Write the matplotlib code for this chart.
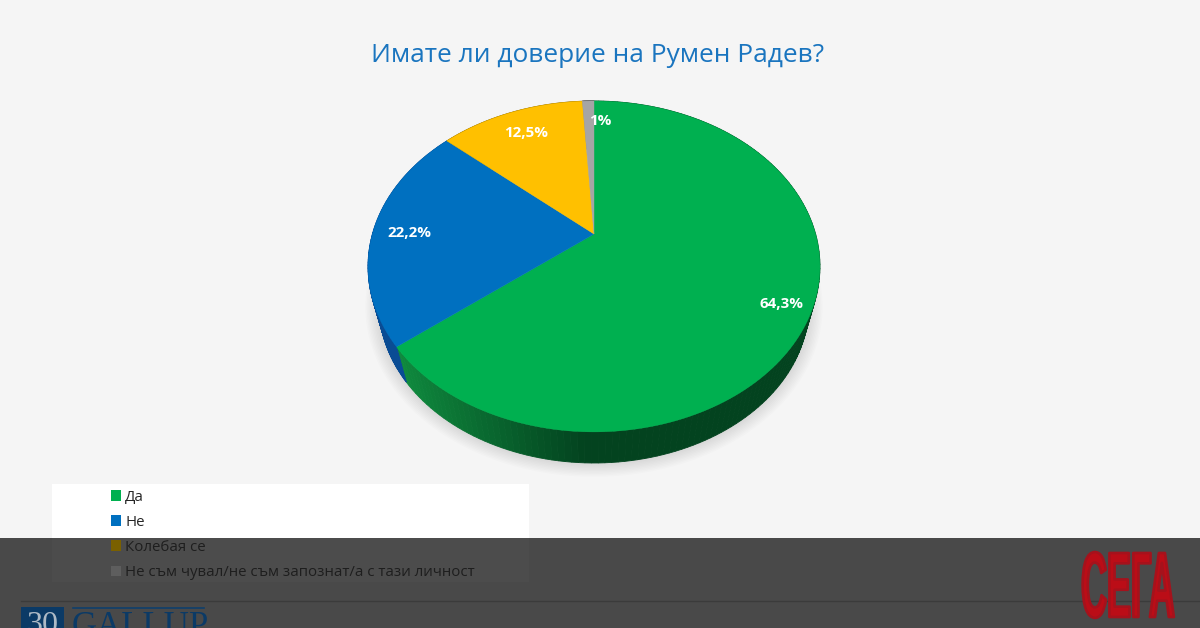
import numpy as np
import matplotlib
matplotlib.use("Agg")
import matplotlib.pyplot as plt
from matplotlib.patches import Rectangle, Patch, Polygon
from matplotlib.transforms import Affine2D
import matplotlib.patheffects as pe

categories = ["Да", "Не", "Колебая се", "Не съм чувал/не съм запознат/а с тази личност"]
values = [64.3, 22.2, 12.5, 1.0]
value_labels = ["64,3%", "22,2%", "12,5%", "1%"]
colors = ["#00B050", "#0070C0", "#FFC000", "#A5A5A5"]
side_dark = ["#03431F", "#0A4C94", "#8A6800", "#666666"]
side_light = ["#0F8A3E", "#0A4C94", "#8A6800", "#666666"]
legend_handle_colors = ["#00B050", "#0070C0", "#7A6000", "#5E5E5E"]
legend_text_colors = ["#262626", "#262626", "#1E1E1E", "#1E1E1E"]
title = "Имате ли доверие на Румен Радев?"

APEX_X, APEX_Y = 594.0, 234.0
A, B, K = 159.1, 221.6, 0.196


def project(theta):
    x, y = np.cos(theta), np.sin(theta)
    w = 1 + K * y
    return APEX_X + B * x / w, APEX_Y - A * y / w


def lower(px, py):
    return APEX_X + 0.95 * (px - APEX_X), APEX_Y + 0.95 * (py - APEX_Y) + 41


class Squeeze(pe.AbstractPathEffect):
    def __init__(self, sx, cx):
        super().__init__()
        self.sx, self.cx = sx, cx

    def draw_path(self, renderer, gc, tpath, affine, rgbFace=None):
        t = affine + Affine2D().translate(-self.cx, 0).scale(self.sx, 1).translate(self.cx, 0)
        gc.set_foreground("#A5121C")
        gc.set_linewidth(1.9)
        renderer.draw_path(gc, tpath, t, rgbFace)


fig = plt.figure(figsize=(12, 6.28), dpi=100, facecolor="#F5F5F5")
ax = fig.add_axes([0, 0, 1, 1])
ax.set_xlim(0, 1200)
ax.set_ylim(628, 0)
ax.axis("off")

edges = 2 * np.pi * np.cumsum([0] + values) / sum(values)
angles = np.pi / 2 - edges

# soft shadow beneath the pie
t = np.linspace(0, 2 * np.pi, 361)
rx, ry = project(t)
bx, by = lower(rx, ry)
for grow in np.linspace(14, 1, 10):
    sx = APEX_X + (bx - APEX_X) * (1 + grow / 215)
    sy = 290 + (by - 290) * (1 + grow / 175)
    ax.fill(sx, sy, color="#000000", alpha=0.012, lw=0, zorder=1)

# side wall
for i, v in enumerate(values):
    t = np.linspace(angles[i], angles[i + 1], 160)
    px, py = project(t)
    qx, qy = lower(px, py)
    c0 = np.array(matplotlib.colors.to_rgb(side_light[i]))
    c1 = np.array(matplotlib.colors.to_rgb(side_dark[i]))
    for j in range(len(t) - 1):
        f = np.clip((px[j] - 397) / 190, 0, 1)
        col = c0 + (c1 - c0) * f
        ax.add_patch(Polygon([(px[j], py[j]), (px[j + 1], py[j + 1]),
                              (qx[j + 1], qy[j + 1]), (qx[j], qy[j])],
                             closed=True, fc=col, ec=col, lw=0.6, zorder=2))

# top face
for i, v in enumerate(values):
    t = np.linspace(angles[i], angles[i + 1], 200)
    px, py = project(t)
    ax.fill(np.r_[APEX_X, px], np.r_[APEX_Y, py], color=colors[i], lw=0.3, zorder=3)

# value labels
label_pos = [(781, 304), (409, 233), (526, 133), (600, 121)]
for (lx, ly), s in zip(label_pos, value_labels):
    ax.text(lx, ly, s, color="white", fontsize=10.9, fontweight="bold",
            family="Open Sans", ha="center", va="center", zorder=4)

ax.text(598, 55, title, color="#1A75BF", fontsize=18.9, family="Open Sans",
        ha="center", va="center", zorder=4)

# legend panel
ax.add_patch(Rectangle((52, 484), 477, 98, fc="#FFFFFF", ec="none", zorder=4))

# footer line under the band
ax.plot([21, 1200], [601, 601], color="#C8C8C8", lw=1, zorder=4)

# dark band
ax.add_patch(Rectangle((0, 538), 1200, 90, fc="#000000", alpha=0.70, ec="none", zorder=6))

handles = [Patch(fc=c, ec="none") for c in legend_handle_colors]
leg = ax.legend(handles, categories, loc="upper left", bbox_to_anchor=(106, 484.5),
                bbox_transform=ax.transData, frameon=False,
                prop={"family": "Open Sans", "size": 10.8}, handlelength=0.67,
                handleheight=0.67, handletextpad=0.27, labelspacing=0.67,
                borderpad=0.35, borderaxespad=0)
leg.set_zorder(7)
for txt, c in zip(leg.get_texts(), legend_text_colors):
    txt.set_color(c)

# Gallup logo, clipped by the figure edge
ax.add_patch(Rectangle((21, 607), 43, 25, fc="#0B3A66", ec="none", zorder=8))
ax.text(42.5, 611, "30", color="#AEBAC6", fontsize=23, family="Liberation Serif",
        ha="center", va="top", zorder=9)
ax.plot([73, 204], [607.5, 607.5], color="#0F3F6B", lw=1.2, zorder=8)
ax.text(72, 611, "GALLUP", color="#0B3A66", fontsize=25, family="Liberation Serif",
        ha="left", va="top", zorder=9)

# newspaper logo
logo = ax.text(1128, 617, "СЕГА", color="#BB0D17", fontsize=67, fontweight="bold",
               family="Liberation Sans", ha="center", va="baseline", zorder=9)
logo.set_path_effects([Squeeze(0.385, 1128)])

fig.savefig("out.png", dpi=100, facecolor=fig.get_facecolor())
